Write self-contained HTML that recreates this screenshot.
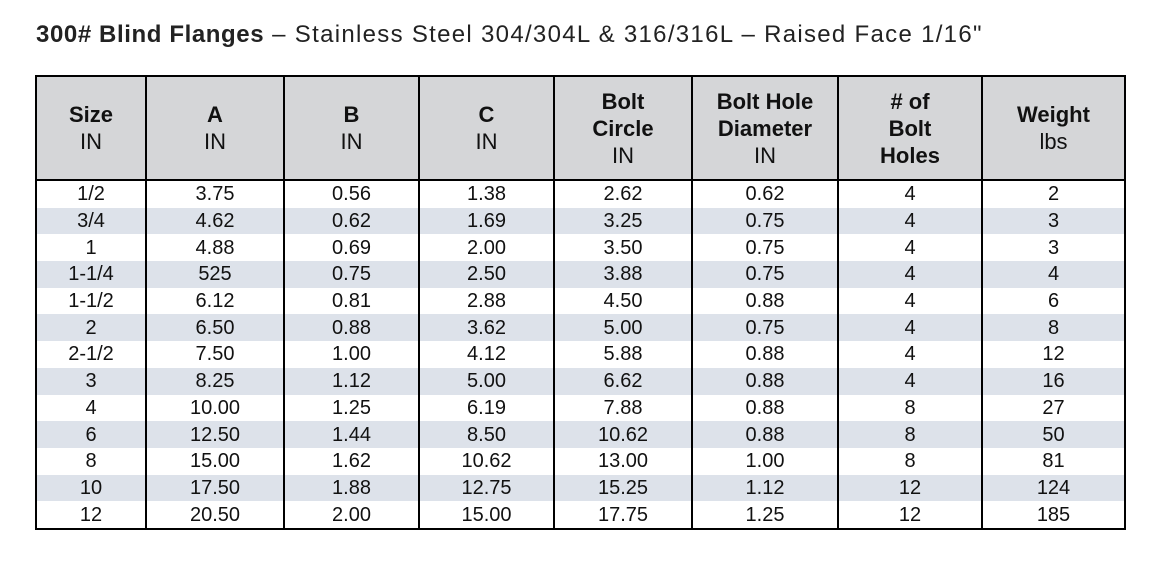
<!DOCTYPE html>
<html><head><style>
body{margin:0;width:1156px;height:578px;background:#fff;font-family:"Liberation Sans",sans-serif;position:relative;overflow:hidden}
.t{position:absolute;left:36px;top:21px;font-size:24px;letter-spacing:1.3px;color:#222;white-space:nowrap}
.t b{letter-spacing:0.6px}
table{position:absolute;left:35px;top:75px;border-collapse:collapse;font-size:20px;color:#111}
td,th{border-left:2px solid #000;border-right:2px solid #000;padding:0;text-align:center}
th{background:#d5d6d8;height:102px;font-size:22px;line-height:27px;border-top:2px solid #000;border-bottom:2px solid #000;font-weight:normal}
th b{font-weight:bold}
td{height:26.7px;line-height:26px}
tr.s td{background:#dde2ea}
tr:last-child td{border-bottom:2px solid #000}
</style></head><body>
<div class="t"><b>300# Blind Flanges</b> – Stainless Steel 304/304L &amp; 316/316L – Raised Face 1/16"</div>
<table>
<tr><th style="width:108px"><b>Size</b><br>IN</th><th style="width:136px"><b>A</b><br>IN</th><th style="width:133px"><b>B</b><br>IN</th><th style="width:133px"><b>C</b><br>IN</th><th style="width:136px"><b>Bolt<br>Circle</b><br>IN</th><th style="width:144px"><b>Bolt Hole<br>Diameter</b><br>IN</th><th style="width:142px"><b># of<br>Bolt<br>Holes</b></th><th style="width:141px"><b>Weight</b><br>lbs</th></tr>
<tr><td>1/2</td><td>3.75</td><td>0.56</td><td>1.38</td><td>2.62</td><td>0.62</td><td>4</td><td>2</td></tr>
<tr class="s"><td>3/4</td><td>4.62</td><td>0.62</td><td>1.69</td><td>3.25</td><td>0.75</td><td>4</td><td>3</td></tr>
<tr><td>1</td><td>4.88</td><td>0.69</td><td>2.00</td><td>3.50</td><td>0.75</td><td>4</td><td>3</td></tr>
<tr class="s"><td>1-1/4</td><td>525</td><td>0.75</td><td>2.50</td><td>3.88</td><td>0.75</td><td>4</td><td>4</td></tr>
<tr><td>1-1/2</td><td>6.12</td><td>0.81</td><td>2.88</td><td>4.50</td><td>0.88</td><td>4</td><td>6</td></tr>
<tr class="s"><td>2</td><td>6.50</td><td>0.88</td><td>3.62</td><td>5.00</td><td>0.75</td><td>4</td><td>8</td></tr>
<tr><td>2-1/2</td><td>7.50</td><td>1.00</td><td>4.12</td><td>5.88</td><td>0.88</td><td>4</td><td>12</td></tr>
<tr class="s"><td>3</td><td>8.25</td><td>1.12</td><td>5.00</td><td>6.62</td><td>0.88</td><td>4</td><td>16</td></tr>
<tr><td>4</td><td>10.00</td><td>1.25</td><td>6.19</td><td>7.88</td><td>0.88</td><td>8</td><td>27</td></tr>
<tr class="s"><td>6</td><td>12.50</td><td>1.44</td><td>8.50</td><td>10.62</td><td>0.88</td><td>8</td><td>50</td></tr>
<tr><td>8</td><td>15.00</td><td>1.62</td><td>10.62</td><td>13.00</td><td>1.00</td><td>8</td><td>81</td></tr>
<tr class="s"><td>10</td><td>17.50</td><td>1.88</td><td>12.75</td><td>15.25</td><td>1.12</td><td>12</td><td>124</td></tr>
<tr><td>12</td><td>20.50</td><td>2.00</td><td>15.00</td><td>17.75</td><td>1.25</td><td>12</td><td>185</td></tr>
</table>
</body></html>
